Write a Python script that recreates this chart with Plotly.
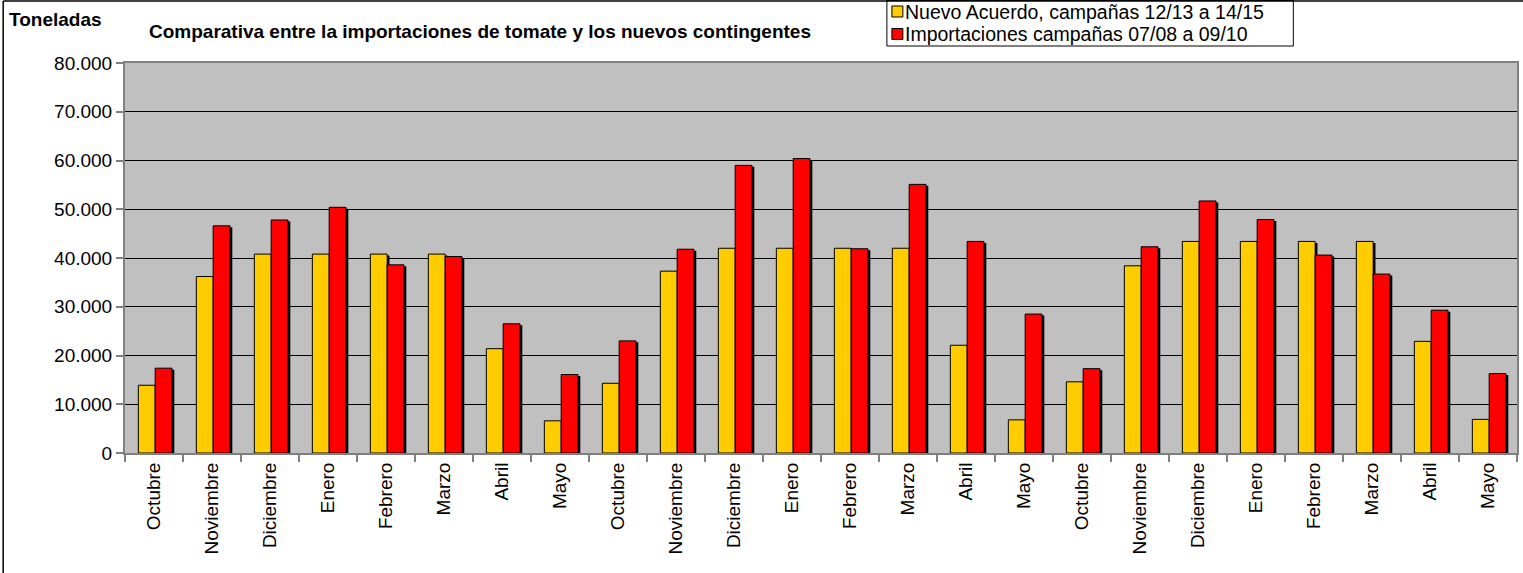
import plotly.graph_objects as go

months = ["Octubre", "Noviembre", "Diciembre", "Enero", "Febrero", "Marzo", "Abril", "Mayo"]
categories = months * 3

nuevo_acuerdo = [13900, 36200, 40800, 40800, 40800, 40800, 21400, 6600,
                 14300, 37300, 42000, 42000, 42000, 42000, 22100, 6800,
                 14600, 38400, 43400, 43400, 43400, 43400, 22900, 6900]
importaciones = [17400, 46600, 47800, 50400, 38600, 40300, 26500, 16100,
                 23000, 41800, 59000, 60400, 41900, 55100, 43400, 28500,
                 17300, 42300, 51700, 47900, 40600, 36700, 29300, 16300]

name_a = "Nuevo Acuerdo, campañas 12/13 a 14/15"
name_b = "Importaciones campañas 07/08 a 09/10"
color_a = "#FFCC00"
color_b = "#FF0000"

FONT = "Liberation Sans, Arial, sans-serif"
x = list(range(len(categories)))

bw = 0.29
off_a = -0.27
off_b = off_a + bw
sh = 0.04
drop = 300  # shadow drop (data units, ~1.5 px)

fig = go.Figure()
fig.add_trace(go.Bar(x=x, y=[v - drop for v in nuevo_acuerdo], offset=off_a + sh, width=bw,
                     marker=dict(color="black", line=dict(width=0)), showlegend=False, hoverinfo="skip"))
fig.add_trace(go.Bar(x=x, y=nuevo_acuerdo, offset=off_a, width=bw, name=name_a, showlegend=False,
                     marker=dict(color=color_a, line=dict(color="black", width=1))))
fig.add_trace(go.Bar(x=x, y=[v - drop for v in importaciones], offset=off_b + sh, width=bw,
                     marker=dict(color="black", line=dict(width=0)), showlegend=False, hoverinfo="skip"))
fig.add_trace(go.Bar(x=x, y=importaciones, offset=off_b, width=bw, name=name_b, showlegend=False,
                     marker=dict(color=color_b, line=dict(color="black", width=1))))

W, H = 1523, 573
ml, mr, mt, mb = 125, 4, 63, 120
pw, ph = W - ml - mr, H - mt - mb


def px_x(p):
    return (p - ml) / pw


def px_y(p):
    return (H - mb - p) / ph


LEG_FS = 19.5
legend_items = [(name_a, color_a, 11.5), (name_b, color_b, 34)]
annotations = [
    dict(text="<b>Toneladas</b>", xref="paper", yref="paper", x=px_x(7), y=px_y(20),
         xanchor="left", yanchor="middle", showarrow=False, font=dict(family=FONT, size=19)),
    dict(text="<b>Comparativa entre la importaciones de tomate y los nuevos contingentes</b>",
         xref="paper", yref="paper", x=px_x(147), y=px_y(31), xanchor="left", yanchor="middle",
         showarrow=False, font=dict(family=FONT, size=19)),
]
shapes = [
    dict(type="rect", xref="paper", yref="paper", x0=px_x(888), x1=px_x(1295),
         y0=px_y(46), y1=px_y(0.5), line=dict(color="black", width=1)),
    dict(type="line", xref="paper", yref="paper", x0=px_x(3), x1=px_x(3),
         y0=px_y(1), y1=px_y(600), line=dict(color="black", width=1.5)),
    dict(type="line", xref="paper", yref="paper", x0=px_x(3), x1=px_x(1600),
         y0=px_y(1), y1=px_y(1), line=dict(color="black", width=1.5)),
]
for name, col, yc in legend_items:
    shapes.append(dict(type="rect", xref="paper", yref="paper", x0=px_x(893), x1=px_x(904),
                       y0=px_y(yc + 5.5), y1=px_y(yc - 5.5), fillcolor=col,
                       line=dict(color="black", width=1)))
    annotations.append(dict(text=name, xref="paper", yref="paper", x=px_x(905), y=px_y(yc),
                            xanchor="left", yanchor="middle", showarrow=False, borderpad=0,
                            font=dict(family=FONT, size=LEG_FS)))

fig.update_layout(
    width=W, height=H,
    margin=dict(l=ml, r=mr, t=mt, b=mb),
    barmode="overlay",
    paper_bgcolor="white",
    plot_bgcolor="#C0C0C0",
    separators=",.",
    font=dict(family=FONT, color="black", size=19),
    showlegend=False,
    xaxis=dict(range=[-0.5, len(categories) - 0.5], tickmode="array", tickvals=x,
               ticktext=categories, tickangle=-90, ticks="", showgrid=False,
               zeroline=False, showline=True, linecolor="#808080", linewidth=2, mirror=True,
               tickfont=dict(family=FONT, size=19, color="black"),
               minor=dict(tick0=0.5, dtick=1, ticks="outside", ticklen=7,
                          tickcolor="#808080", tickwidth=1.5, showgrid=False)),
    yaxis=dict(range=[0, 80000], dtick=10000, tickformat=",d", ticks="outside", ticklen=7,
               tickcolor="#808080", tickwidth=1.5, showgrid=True, gridcolor="black", gridwidth=1,
               zeroline=False, showline=True, linecolor="#808080", linewidth=2, mirror=True,
               tickfont=dict(family=FONT, size=19, color="black")),
    annotations=annotations,
    shapes=shapes,
)

fig.write_html("out.html", config={"displayModeBar": False},
               post_script="document.body.style.margin='0';document.body.style.overflow='hidden';")
